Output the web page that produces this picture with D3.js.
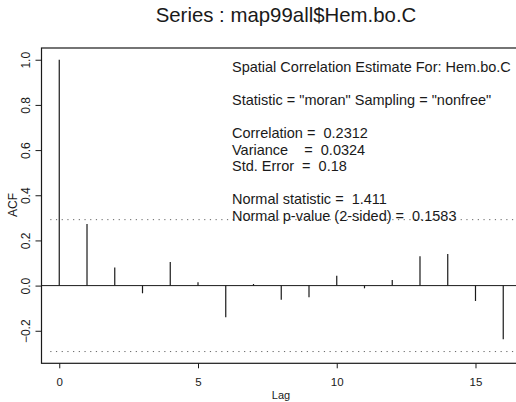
<!DOCTYPE html>
<html>
<head>
<meta charset="utf-8">
<script src="https://cdn.jsdelivr.net/npm/d3@7"></script>
<style>
  html, body { margin: 0; padding: 0; background: #fff; }
  svg { display: block; font-family: "Liberation Sans", Arial, Helvetica, sans-serif; }
  text { white-space: pre; }
</style>
</head>
<body>
<svg id="chart" width="516" height="402"></svg>
<script>
// ---- data ----
const lags = [0, 1, 2, 3, 4, 5, 6, 7, 8, 9, 10, 11, 12, 13, 14, 15, 16];
const acf  = [1.0, 0.273, 0.08, -0.034, 0.104, 0.015, -0.14, 0.007, -0.063, -0.052, 0.044, -0.012, 0.025, 0.13, 0.14, -0.068, -0.237];
const ciBound = 0.292;
const xTicks = [0, 5, 10, 15];
const yTicks = [-0.2, 0.0, 0.2, 0.4, 0.6, 0.8, 1.0];
const titleText = "Series : map99all$Hem.bo.C";
const xLabel = "Lag";
const yLabel = "ACF";
const infoLines = [
  "Spatial Correlation Estimate For: Hem.bo.C",
  "",
  "Statistic = \"moran\" Sampling = \"nonfree\"",
  "",
  "Correlation =  0.2312",
  "Variance    =  0.0324",
  "Std. Error  =  0.18",
  "",
  "Normal statistic =  1.411",
  "Normal p-value (2-sided) =  0.1583"
];

// ---- layout ----
const svg = d3.select("#chart");
const L = 41.5, R = 521, T = 48, B = 363.3;
const x = d3.scaleLinear().domain([-0.64, 16.64]).range([L, R]);
const y = d3.scaleLinear().domain([-0.344, 1.052]).range([B, T]);
const ink = "#1a1a1a";

// box
svg.append("rect").attr("x", L).attr("y", T).attr("width", R - L).attr("height", B - T)
  .attr("fill", "none").attr("stroke", ink).attr("stroke-width", 1.2);

// zero line
svg.append("line").attr("x1", L).attr("x2", R).attr("y1", y(0)).attr("y2", y(0))
  .attr("stroke", ink).attr("stroke-width", 1);

// confidence lines
[ciBound, -ciBound].forEach(v => {
  svg.append("line").attr("x1", x(0) - 9).attr("x2", R).attr("y1", y(v)).attr("y2", y(v))
    .attr("stroke", "#666").attr("stroke-width", 1).attr("stroke-dasharray", "1.2,4.5");
});

// bars
svg.append("g").selectAll("line").data(lags).join("line")
  .attr("x1", d => x(d)).attr("x2", d => x(d))
  .attr("y1", y(0)).attr("y2", (d, i) => y(acf[i]))
  .attr("stroke", ink).attr("stroke-width", 1.2);

// x axis
const xAxis = d3.axisBottom(x).tickValues(xTicks).tickFormat(d3.format("d")).tickSize(5).tickSizeOuter(0);
const gx = svg.append("g").attr("transform", `translate(0,${B})`).call(xAxis);
gx.select(".domain").remove();
gx.selectAll("line").attr("stroke", ink);
gx.selectAll("text").attr("fill", ink).attr("font-size", 11.5).attr("font-family", "Liberation Sans, Arial, sans-serif")
  .attr("dy", null).attr("y", 23);

// y axis
const yAxis = d3.axisLeft(y).tickValues(yTicks).tickFormat(d3.format(".1f")).tickSize(6).tickSizeOuter(0);
const gy = svg.append("g").attr("transform", `translate(${L},0)`).call(yAxis);
gy.select(".domain").remove();
gy.selectAll("line").attr("stroke", ink);
gy.selectAll(".tick text").attr("fill", ink).attr("font-size", 12).attr("font-family", "Liberation Sans, Arial, sans-serif")
  .attr("x", null).attr("dy", "-0.1em").attr("y", 0).attr("text-anchor", "middle")
  .attr("transform", "translate(-10,0) rotate(-90)");

// labels
svg.append("text").attr("x", 286).attr("y", 22).attr("text-anchor", "middle")
  .attr("font-size", 20.4).attr("fill", ink).text(titleText);
svg.append("text").attr("x", 281).attr("y", 399).attr("text-anchor", "middle")
  .attr("font-size", 11).attr("fill", ink).text(xLabel);
svg.append("text").attr("transform", `translate(16.5,205) rotate(-90)`).attr("text-anchor", "middle")
  .attr("font-size", 12).attr("fill", ink).text(yLabel);

// info block
const info = svg.append("g");
infoLines.forEach((t, i) => {
  if (!t) return;
  info.append("text").attr("x", 232).attr("y", 71.5 + i * 16.6)
    .attr("font-size", 14.5).attr("fill", ink).text(t);
});
</script>
</body>
</html>
